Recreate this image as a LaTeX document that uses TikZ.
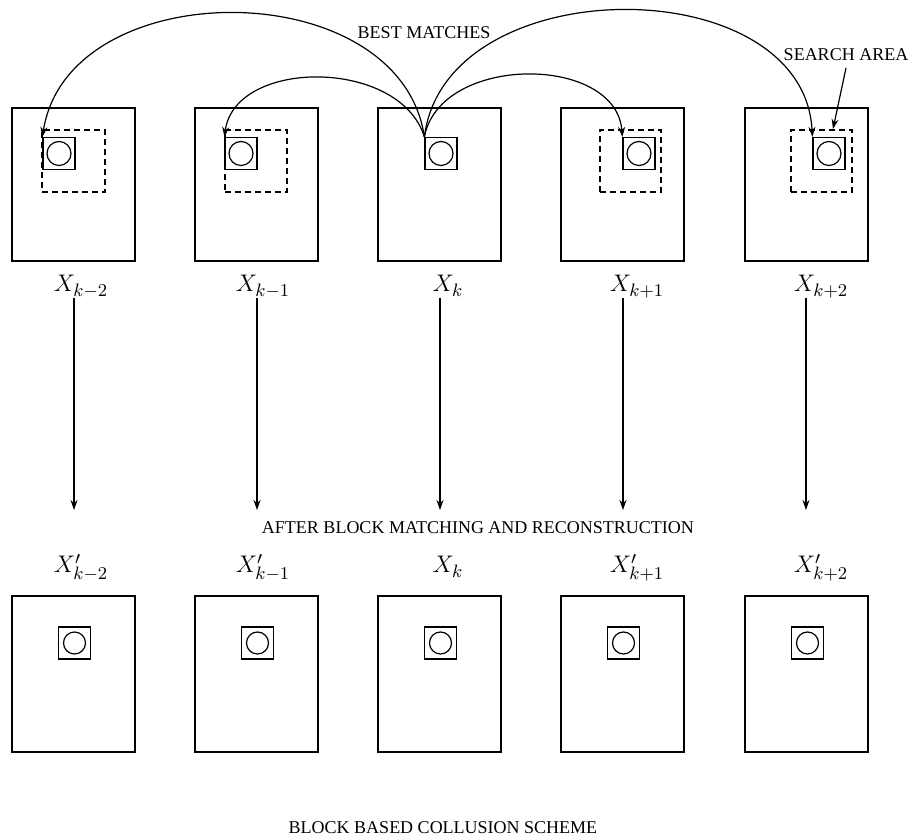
\documentclass[tikz,border=0pt]{standalone}
\usepackage{fontspec}
\setmainfont{Liberation Serif}
\usetikzlibrary{arrows.meta}
\begin{document}
\begin{tikzpicture}[x=0.5pt,y=-0.5pt,
  line width=0.6pt,
  frame/.style={draw,minimum width=61.5pt,minimum height=76.5pt,inner sep=0pt},
  bframe/.style={draw,minimum width=61.5pt,minimum height=78pt,inner sep=0pt},
  blk/.style={draw,minimum size=16pt,inner sep=0pt},
  circ/.style={draw,circle,minimum size=12pt,inner sep=0pt},
  bcirc/.style={draw,circle,minimum size=11pt,inner sep=0pt},
  search/.style={draw,dash pattern=on 3pt off 2pt,inner sep=0pt},
  txt/.style={font=\fontsize{9}{11}\selectfont,inner sep=0pt},
  mlab/.style={font=\fontsize{13}{15}\selectfont,inner sep=0pt,anchor=base},
  arr/.style={-{Stealth[length=5pt,width=3.5pt]}}
]
\useasboundingbox (0,0) rectangle (912,838);

% top frames
\foreach \i/\x in {1/73.5,2/256.5,3/439.5,4/622.5,5/806.5}{
  \node[frame] (t\i) at (\x,184.5) {};
  \node[bframe] (b\i) at (\x,674) {};
}
% top blocks
\foreach \i/\x in {1/59,2/241,3/441,4/639,5/829}{
  \node[blk] (tb\i) at (\x,153.5) {};
  \node[circ] (tc\i) at (\x,153.5) {};
}
% bottom blocks
\foreach \i/\x in {1/74.5,2/257.5,3/440.5,4/623.5,5/807.5}{
  \node[blk] (bb\i) at (\x,643) {};
  \node[bcirc] (bc\i) at (\x,643) {};
}
% search areas
\node[search,minimum width=31.5pt,minimum height=31pt] (s1) at (73.5,161) {};
\node[search,minimum width=31pt,minimum height=31pt] (s2) at (256,161) {};
\node[search,minimum width=30.5pt,minimum height=31pt] (s4) at (630.5,161) {};
\node[search,minimum width=30.5pt,minimum height=31pt] (s5) at (821.5,161) {};

% top labels
\node[mlab] (l1) at (81,292) {$X_{k-2}$};
\node[mlab] (l2) at (263,292) {$X_{k-1}$};
\node[mlab] (l3) at (448,292) {$X_{k}$};
\node[mlab] (l4) at (637,292) {$X_{k+1}$};
\node[mlab] (l5) at (821,292) {$X_{k+2}$};

% bottom labels
\node[mlab] (m1) at (81,573) {$X'_{k-2}$};
\node[mlab] (m2) at (263,573) {$X'_{k-1}$};
\node[mlab] (m3) at (448,573) {$X_{k}$};
\node[mlab] (m4) at (637,573) {$X'_{k+1}$};
\node[mlab] (m5) at (821,573) {$X'_{k+2}$};

% vertical arrows
\foreach \i/\x in {1/74,2/257,3/440,4/623,5/806}{
  \coordinate (e\i) at (\x,510);
  \draw[arr] (\x,298) -- (e\i);
}

% texts
\node[txt] (best) at (424,33) {BEST MATCHES};
\node[txt] (sa) at (846,55) {SEARCH AREA};
\node[txt] (after) at (478,528) {AFTER BLOCK MATCHING AND RECONSTRUCTION};
\node[txt] (title) at (443,828) {BLOCK BASED COLLUSION SCHEME};

% best match curves
\draw[arr] (tb3.north west) .. controls (400,-28) and (68,-28) .. (tb1.north west);
\draw[arr] (tb3.north west) .. controls (400,58) and (235,58) .. (tb2.north west);
\draw[arr] (tb3.north west) .. controls (440,54) and (616,54) .. (tb4.north west);
\draw[arr] (tb3.north west) .. controls (445,-32) and (804,-32) .. (tb5.north west);

% search area pointer
\coordinate (sp) at (833,129);
\draw[arr] (846,68) -- (sp);
\end{tikzpicture}
\end{document}
